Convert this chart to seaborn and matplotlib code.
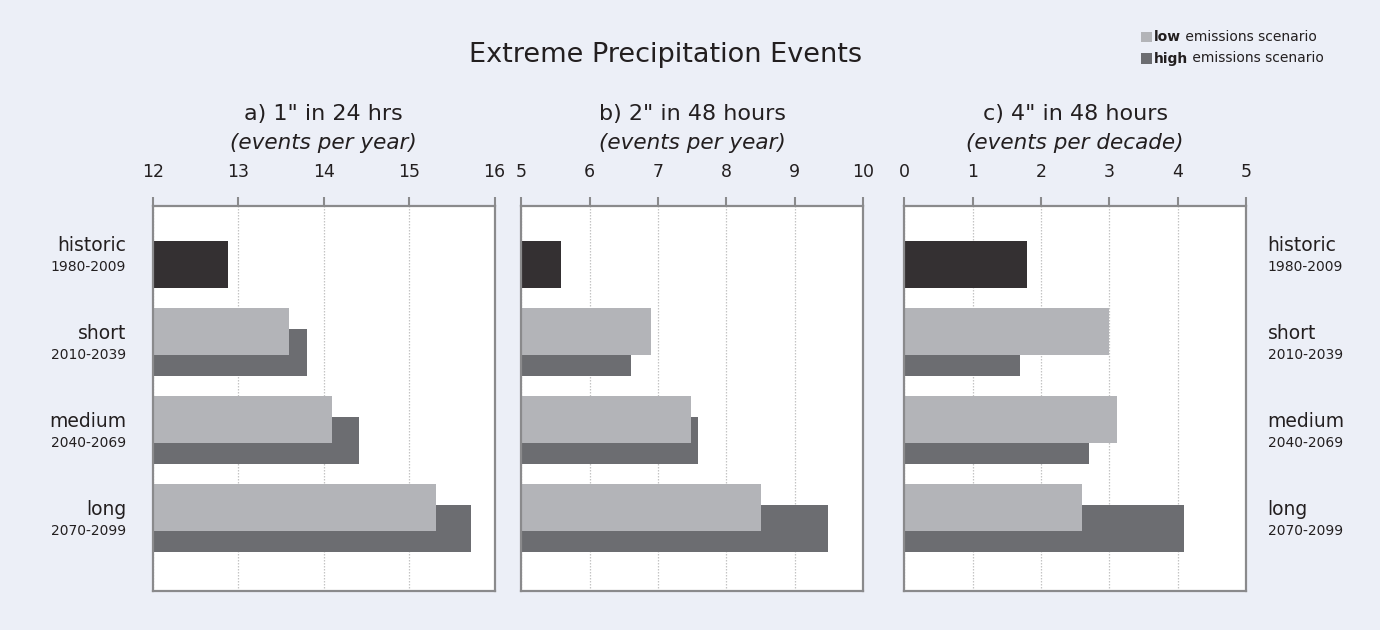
#!/usr/bin/env python3
# coding: utf-8

import seaborn as sns
import matplotlib
from matplotlib import pyplot as plt
from matplotlib.patches import Rectangle
import pandas as pd

# data
periods = ["historic", "short", "medium", "long"]
years = ["1980-2009", "2010-2039", "2040-2069", "2070-2099"]
panel_titles = ['a) 1" in 24 hrs', 'b) 2" in 48 hours', 'c) 4" in 48 hours']
panel_units = ["(events per year)", "(events per year)", "(events per decade)"]
x_limits = [(12, 16), (5, 10), (0, 5)]
historic = [12.88, 5.58, 1.79]
low = [[13.60, 14.10, 15.32], [6.90, 7.48, 8.51], [3.00, 3.11, 2.60]]
high = [[13.80, 14.41, 15.73], [6.60, 7.59, 9.49], [1.69, 2.70, 4.09]]
legend_labels = [("low", " emissions scenario"), ("high", " emissions scenario")]

# common setup BEGIN
sns.set_style("white")
plt.rcParams["font.family"] = ["DejaVu Sans"]
BG = "#ECEFF7"
TEXT_C = "#231F20"
SPINE_C = "#8A8A8C"
HIST_C = "#343032"
LOW_C = "#B3B4B8"
HIGH_C = "#6C6D71"
BAR_H = 0.534
OFF = 0.1175
# common setup END

fig = plt.figure(figsize=[13.8, 6.3], dpi=100, facecolor=BG)
W, H = 1380.0, 630.0
lefts = [152.7, 521.3, 904.3]
axes = [fig.add_axes([l / W, 1 - 591 / H, 341.8 / W, 385.3 / H]) for l in lefts]

for i, ax in enumerate(axes):
    hist_df = pd.DataFrame({"value": [historic[i]], "pos": [0 + OFF]})
    high_df = pd.DataFrame({"value": high[i], "pos": [k + OFF for k in (1, 2, 3)]})
    low_df = pd.DataFrame({"value": low[i], "pos": [k - OFF for k in (1, 2, 3)]})
    for df, c in [(hist_df, HIST_C), (high_df, HIGH_C), (low_df, LOW_C)]:
        sns.barplot(data=df, x="value", y="pos", orient="h", native_scale=True,
                    width=BAR_H, color=c, saturation=1, linewidth=0,
                    errorbar=None, ax=ax, zorder=2)

    lo, hi = x_limits[i]
    ax.set_facecolor("white")
    ax.set_xlim(lo, hi)
    ax.set_ylim(3.83, -0.549)
    ax.set_yticks([])
    ax.set_xlabel("")
    ax.set_ylabel("")
    ax.xaxis.tick_top()
    ax.set_xticks(range(lo, hi + 1))
    ax.tick_params(axis="x", direction="out", length=6.5, width=1.5,
                   color=SPINE_C, pad=11, labelsize=12.5, labelcolor=TEXT_C)
    ax.grid(axis="x", linestyle=(0, (1.2, 1.2)), color="#C4C4C4", linewidth=0.9)
    ax.set_axisbelow(True)
    for s in ax.spines.values():
        s.set_visible(True)
        s.set_color(SPINE_C)
        s.set_linewidth(1.6)

    ax.text(0.5, 1.238, panel_titles[i], transform=ax.transAxes, ha="center",
            va="center", fontsize=16, color=TEXT_C)
    ax.text(0.5, 1.163, panel_units[i], transform=ax.transAxes, ha="center",
            va="center", fontsize=15.5, style="italic", color=TEXT_C)

# row labels on both sides
for k, (p, y) in enumerate(zip(periods, years)):
    tl = axes[0].get_yaxis_transform()
    axes[0].text(-0.078, k - 0.1, p, transform=tl, ha="right", va="center",
                 fontsize=13.5, color=TEXT_C)
    axes[0].text(-0.078, k + 0.15, y, transform=tl, ha="right", va="center",
                 fontsize=10, color=TEXT_C)
    tr = axes[2].get_yaxis_transform()
    axes[2].text(1.063, k - 0.1, p, transform=tr, ha="left", va="center",
                 fontsize=13.5, color=TEXT_C)
    axes[2].text(1.063, k + 0.15, y, transform=tr, ha="left", va="center",
                 fontsize=10, color=TEXT_C)

fig.text(666 / W, 1 - 55 / H, "Extreme Precipitation Events", ha="center",
         va="center", fontsize=19.5, color=TEXT_C)

# legend
for (bold, rest), c, yc in zip(legend_labels, [LOW_C, HIGH_C], [37, 58.5]):
    fig.add_artist(Rectangle((1141 / W, 1 - (yc + 5.3) / H), 11 / W, 10.6 / H,
                             transform=fig.transFigure, color=c, lw=0))
    t = fig.text(1154 / W, 1 - yc / H, bold, ha="left", va="center",
                 fontsize=10, fontweight="bold", color=TEXT_C)
    plt.annotate(rest, xy=(1, 0), xycoords=t, ha="left", va="bottom",
                 fontsize=10, color=TEXT_C)

plt.savefig("out.png", dpi=100, facecolor=fig.get_facecolor())
